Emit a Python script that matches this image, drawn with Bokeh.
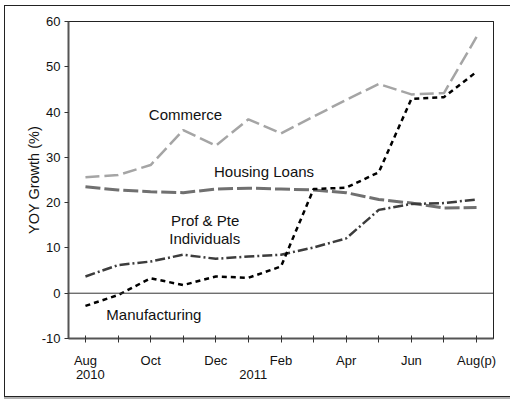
from bokeh.plotting import figure
from bokeh.models import Range1d, FixedTicker, LinearAxis, Span, Label
from bokeh.embed import file_html
from bokeh.resources import INLINE

# ---- data ----
months = ["Aug", "Sep", "Oct", "Nov", "Dec", "Jan", "Feb", "Mar", "Apr", "May", "Jun", "Jul", "Aug(p)"]
tick_labels = ["Aug", "", "Oct", "", "Dec", "", "Feb", "", "Apr", "", "Jun", "", "Aug(p)"]
years = ["2010", "2011"]
year_month_index = [0, 5]
commerce = [25.6, 26.1, 28.3, 36.0, 32.6, 38.4, 35.3, 39.0, 42.7, 46.2, 43.9, 44.2, 56.6]
housing = [23.5, 22.8, 22.4, 22.2, 23.0, 23.2, 23.0, 22.8, 22.2, 20.7, 19.9, 18.8, 18.9]
prof = [3.7, 6.2, 7.0, 8.5, 7.6, 8.1, 8.5, 10.1, 12.1, 18.4, 19.7, 19.9, 20.7]
manuf = [-2.8, -0.4, 3.3, 1.8, 3.7, 3.4, 5.9, 23.0, 23.3, 26.7, 42.9, 43.3, 48.9]
y_ticks = [-10, 0, 10, 20, 30, 40, 50, 60]

xs = list(range(len(months)))
FONT = "Liberation Sans"

p = figure(width=506, height=392, output_backend="svg", toolbar_location=None,
           x_range=Range1d(-0.52, 12.52), y_range=Range1d(-10, 60),
           min_border_left=63, min_border_right=18, min_border_top=15, min_border_bottom=60)
p.styles = {"margin-left": "4px", "margin-top": "5px",
            "border-left": "1px solid #222", "border-top": "1px solid #222",
            "border-bottom": "1px solid #222", "box-shadow": "0 2px 0 #b0b0b0"}

p.xgrid.visible = False
p.ygrid.visible = False
p.background_fill_color = "white"
p.border_fill_color = "white"
p.outline_line_color = "#222"
p.outline_line_width = 1

# y axis
p.yaxis.ticker = FixedTicker(ticks=y_ticks)
p.yaxis.major_label_overrides = {t: str(t) for t in y_ticks}
p.yaxis.axis_label = "YOY Growth (%)"
p.yaxis.axis_label_text_font = FONT
p.yaxis.axis_label_text_font_size = "14.5px"
p.yaxis.axis_label_text_font_style = "normal"
p.yaxis.axis_label_text_color = "#111"
p.yaxis.axis_label_standoff = -3
p.yaxis.major_label_text_font = FONT
p.yaxis.major_label_text_font_size = "13px"
p.yaxis.major_label_text_color = "#111"
p.yaxis.major_label_standoff = 4
p.yaxis.minor_tick_line_color = None
p.yaxis.major_tick_in = 0
p.yaxis.major_tick_out = 4
p.yaxis.axis_line_color = "#555"
p.yaxis.axis_line_width = 2
p.yaxis.major_tick_line_color = "#333"

# x axis (months)
p.xaxis.ticker = FixedTicker(ticks=xs)
p.xaxis.major_label_overrides = {i: t for i, t in zip(xs, tick_labels)}
p.xaxis.major_label_text_font = FONT
p.xaxis.major_label_text_font_size = "13px"
p.xaxis.major_label_text_color = "#111"
p.xaxis.major_label_standoff = 10
p.xaxis.minor_tick_line_color = None
p.xaxis.major_tick_in = 3
p.xaxis.major_tick_out = 4
p.xaxis.axis_line_color = "#555"
p.xaxis.axis_line_width = 2
p.xaxis.major_tick_line_color = "#333"

# second x axis (years), labels nudged slightly right as in the original
year_pos = [i + 0.15 for i in year_month_index]
yax = LinearAxis(ticker=FixedTicker(ticks=year_pos),
                 major_label_overrides={k: v for k, v in zip(year_pos, years)},
                 axis_line_color=None, major_tick_line_color=None, minor_tick_line_color=None,
                 major_label_text_font=FONT, major_label_text_font_size="13px",
                 major_label_text_color="#111", major_label_standoff=-1,
                 major_tick_in=0, major_tick_out=0)
p.add_layout(yax, "below")

# frame lines top and right
for side in ("above", "right"):
    ax = LinearAxis(ticker=FixedTicker(ticks=[]), axis_line_color="#222", axis_line_width=1,
                    major_tick_line_color=None, minor_tick_line_color=None,
                    major_label_text_font_size="0px", major_tick_in=0, major_tick_out=0,
                    major_label_standoff=0)
    p.add_layout(ax, side)

# zero line
p.add_layout(Span(location=0, dimension="width", line_color="#333", line_width=1))

# series
p.line(xs, commerce, line_color="#a5a5a5", line_width=2.5, line_dash="14 5")
p.line(xs, housing, line_color="#707070", line_width=3, line_dash="15 4")
p.line(xs, prof, line_color="#3c3c3c", line_width=2.5, line_dash="10 3 2 3")
p.line(xs, manuf, line_color="#000000", line_width=2.5, line_dash="5 4")

# series labels
labels = [("Commerce", 3.07, 39.4), ("Housing Loans", 5.48, 26.8),
          ("Prof & Pte", 3.67, 16.0), ("Individuals", 3.66, 12.1),
          ("Manufacturing", 2.1, -4.8)]
for t, x, y in labels:
    p.add_layout(Label(x=x, y=y, text=t, text_align="center", text_baseline="middle",
                       text_font=FONT, text_font_size="15px", text_color="#111"))

open("out.html", "w").write(file_html(p, INLINE))
